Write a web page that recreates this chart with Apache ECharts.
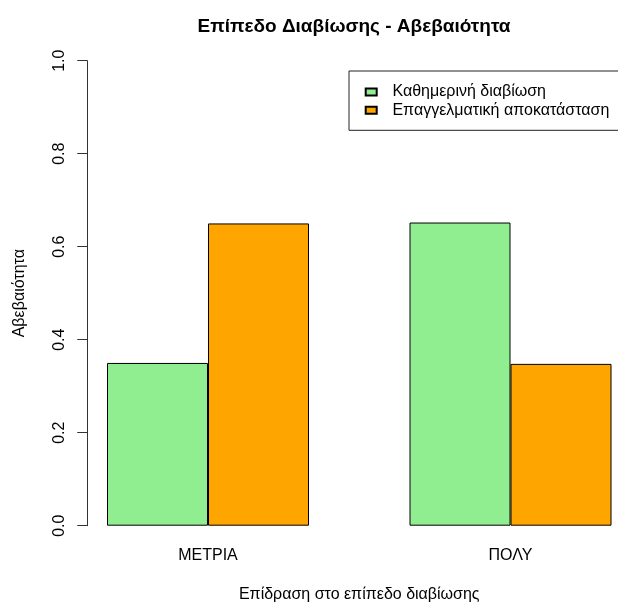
<!DOCTYPE html>
<html>
<head>
<meta charset="utf-8">
<script src="https://cdn.jsdelivr.net/npm/echarts@6/dist/echarts.min.js"></script>
<style>html,body{margin:0;padding:0;background:#fff}#c{width:618px;height:607px}</style>
</head>
<body>
<div id="c"></div>
<script>
const categories = ['ΜΕΤΡΙΑ', 'ΠΟΛΥ'];
const seriesNames = ['Καθημερινή διαβίωση', 'Επαγγελματική αποκατάσταση'];
const dailyLife = [0.35, 0.652];
const professional = [0.65, 0.348];
const yTicks = [0, 0.2, 0.4, 0.6, 0.8, 1.0];

const FONT = '"Liberation Sans", Arial, sans-serif';
const chart = echarts.init(document.getElementById('c'), null, {renderer: 'canvas'});
chart.setOption({
  animation: false,
  backgroundColor: '#fff',
  title: {
    text: 'Επίπεδο Διαβίωσης - Αβεβαιότητα',
    left: 349, top: 12, textAlign: 'center',
    textStyle: {fontFamily: FONT, fontSize: 19, fontWeight: 'bold', color: '#000'}
  },
  legend: {
    orient: 'vertical',
    left: 349, top: 71,
    padding: [13, 40, 12, 15.7],
    borderColor: '#222', borderWidth: 1,
    itemWidth: 11, itemHeight: 7, itemGap: 2.3,
    icon: 'rect',
    data: seriesNames,
    textStyle: {fontFamily: FONT, fontSize: 16, color: '#000', lineHeight: 16, padding: [0, 0, 0, 10.7]}
  },
  grid: {left: 56.75, width: 605, top: 60.7, bottom: 81.3, containLabel: false, outerBoundsMode: 'none'},
  xAxis: {
    type: 'category', data: categories,
    axisLine: {show: false}, axisTick: {show: false},
    axisLabel: {fontFamily: FONT, fontSize: 16, color: '#000', margin: 22},
    name: 'Επίδραση στο επίπεδο διαβίωσης', nameLocation: 'middle', nameGap: 61,
    nameTextStyle: {fontFamily: FONT, fontSize: 16, color: '#000'}
  },
  yAxis: {
    type: 'value', min: 0, max: 1, interval: 0.2, offset: -30.5,
    axisLine: {show: true, lineStyle: {color: '#333', width: 1}},
    axisTick: {show: true, length: 10, lineStyle: {color: '#333'}},
    splitLine: {show: false},
    axisLabel: {rotate: 90, fontFamily: FONT, fontSize: 16, color: '#000', margin: 20,
      formatter: v => yTicks.includes(+v.toFixed(1)) ? v.toFixed(1) : ''},
    name: 'Αβεβαιότητα', nameLocation: 'middle', nameGap: 60, nameRotate: 90,
    nameTextStyle: {fontFamily: FONT, fontSize: 16, color: '#000'}
  },
  series: [
    {name: seriesNames[0], type: 'bar', data: dailyLife, barWidth: 101, barGap: '0%',
     itemStyle: {color: '#90EE90', borderColor: '#000', borderWidth: 1}},
    {name: seriesNames[1], type: 'bar', data: professional, barWidth: 101, barGap: '0%',
     itemStyle: {color: '#FFA500', borderColor: '#000', borderWidth: 1}}
  ]
});
</script>
</body>
</html>
